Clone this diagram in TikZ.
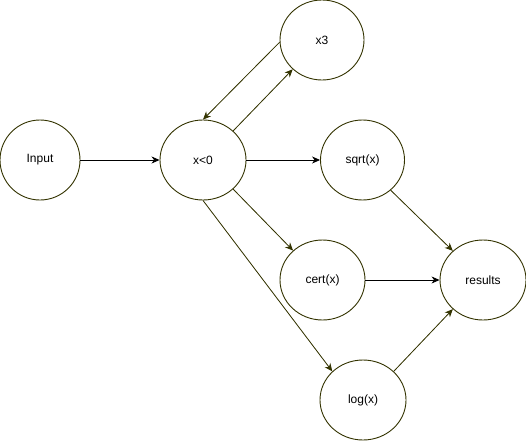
\documentclass[tikz,border=0pt]{standalone}
\usepackage{fontspec}
\setmainfont{Liberation Sans}
\usetikzlibrary{shapes.geometric,arrows.meta}
\definecolor{olivedark}{RGB}{51,51,0}
\begin{document}
\begin{tikzpicture}[x=1pt,y=-1pt,
  bub/.style={ellipse,draw=olivedark,line width=0.9pt,minimum height=80pt,inner sep=0pt,font=\fontsize{12}{14}\selectfont},
  arr/.style={-{Stealth[length=8pt,width=7pt,inset=2.5pt]},line width=0.8pt},
  darr/.style={arr,draw=olivedark,fill=olivedark}]
\useasboundingbox (0,0) rectangle (526,441);
\node[bub,minimum width=80pt] (in) at (40,160) {Input};
\node[bub,minimum width=86pt] (x0) at (203,160) {x<0};
\node[bub,minimum width=84pt] (x3) at (322,40) {x3};
\node[bub,minimum width=84pt] (sq) at (362.5,160) {sqrt(x)};
\node[bub,minimum width=85pt] (ce) at (322.5,280) {cert(x)};
\node[bub,minimum width=86pt] (re) at (483,280) {results};
\node[bub,minimum width=86pt] (lg) at (363,400) {log(x)};
\draw[arr] (in.east) -- (x0.west);
\draw[arr] (x0.east) -- (sq.west);
\draw[arr] (ce.east) -- (re.west);
\draw[darr] (x3.183) -- (x0.90);
\draw[darr] (x0.44) -- (x3.225);
\draw[darr] (x0.-44) -- (ce.135);
\draw[darr] (x0.270) -- (lg.137);
\draw[darr] (sq.-47) -- (re.136);
\draw[darr] (lg.43) -- (re.224);
\end{tikzpicture}
\end{document}
